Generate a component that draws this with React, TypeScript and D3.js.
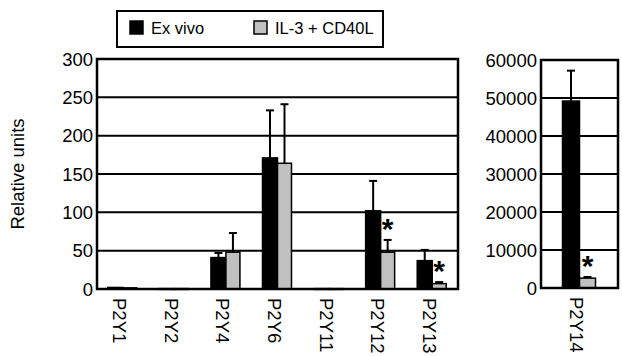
import * as d3 from "d3"

// data
const categories = ["P2Y1", "P2Y2", "P2Y4", "P2Y6", "P2Y11", "P2Y12", "P2Y13"]
const exVivo = [2, 0.5, 41, 171, 0.5, 102, 37]
const exVivoErr = [0, 0, 6, 62, 0, 39, 14]
const il3 = [1.5, 0.5, 48, 164, 0.5, 48, 7]
const il3Err = [0, 0, 25, 77, 0, 16, 2]
const il3Sig = [false, false, false, false, false, true, true]

const bigCategory = ["P2Y14"]
const bigExVivo = [49200]
const bigExVivoErr = [8000]
const bigIl3 = [2600]
const bigIl3Err = [300]
const bigIl3Sig = [true]

const leftTicks = [0, 50, 100, 150, 200, 250, 300]
const rightTicks = [0, 10000, 20000, 30000, 40000, 50000, 60000]

const seriesNames = ["Ex vivo", "IL-3 + CD40L"]
const seriesColors = ["#000000", "#c0c0c0"]

const FONT = "'Liberation Sans', Arial, Helvetica, sans-serif"

type PanelProps = {
  cats: string[]
  a: number[]
  aErr: number[]
  b: number[]
  bErr: number[]
  sig: boolean[]
  ticks: number[]
  x0: number
  x1: number
  top: number
  bottom: number
  half: number
}

function Panel({ cats, a, aErr, b, bErr, sig, ticks, x0, x1, top, bottom, half }: PanelProps) {
  const y = d3.scaleLinear().domain([0, d3.max(ticks) as number]).range([bottom, top])
  const x = d3.scaleBand().domain(cats).range([x0, x1])
  const errBar = (cx: number, v: number, e: number, key: string) => {
    if (e <= 0) return null
    return (
      <g key={key} stroke="#000" strokeWidth={2}>
        <line x1={cx} x2={cx} y1={y(v)} y2={y(v + e)} />
        <line x1={cx - 4} x2={cx + 4} y1={y(v + e)} y2={y(v + e)} />
      </g>
    )
  }
  return (
    <g>
      {ticks.map(t => (
        <g key={t}>
          <line x1={x0} x2={x1} y1={y(t)} y2={y(t)} stroke="#000" strokeWidth={2} />
          <text x={x0 - 4} y={y(t) + 6.5} textAnchor="end" fontSize={18.5} fontFamily={FONT}>
            {t}
          </text>
        </g>
      ))}
      {cats.map((c, i) => {
        const cx = (x(c) as number) + x.bandwidth() / 2
        const ha = y(0) - y(a[i])
        const hb = y(0) - y(b[i])
        return (
          <g key={c}>
            <rect x={cx - half} y={y(a[i])} width={half} height={Math.max(ha, 0.8)}
              fill={seriesColors[0]} stroke="#000" strokeWidth={1.5} />
            <rect x={cx} y={y(b[i])} width={half - 1} height={Math.max(hb, 0.8)}
              fill={seriesColors[1]} stroke="#000" strokeWidth={1.5} />
            {errBar(cx - half / 2, a[i], aErr[i], "ea")}
            {errBar(cx + (half - 1) / 2, b[i], bErr[i], "eb")}
            {sig[i] && (
              <text x={cx + (half - 1) / 2} y={y(b[i] + bErr[i]) - 1} textAnchor="middle"
                fontSize={30} fontWeight="bold" fontFamily={FONT}>
                *
              </text>
            )}
            <text transform={`translate(${cx - 3},${bottom + 9}) rotate(90)`}
              dominantBaseline="central" fontSize={18.5} fontFamily={FONT}>
              {c}
            </text>
          </g>
        )
      })}
      <rect x={x0} y={top} width={x1 - x0} height={bottom - top} fill="none" stroke="#000" strokeWidth={2.5} />
    </g>
  )
}

export default function App() {
  return (
    <svg width={622} height={356} style={{ position: "absolute", left: 0, top: 0, background: "#fff" }}>
      <rect x={0} y={0} width={622} height={356} fill="#fff" />
      {/* legend */}
      <rect x={117} y={11} width={266} height={36} fill="#fff" stroke="#000" strokeWidth={2} />
      {seriesNames.map((s, i) => (
        <g key={s}>
          <rect x={130 + i * 124} y={21} width={13} height={13} fill={seriesColors[i]} stroke="#000" strokeWidth={1.5} />
          <text x={151 + i * 124} y={34} fontSize={16.5} fontFamily={FONT}>{s}</text>
        </g>
      ))}
      <text transform="translate(24,174) rotate(-90)" textAnchor="middle" fontSize={18.5} fontFamily={FONT}>
        Relative units
      </text>
      <Panel cats={categories} a={exVivo} aErr={exVivoErr} b={il3} bErr={il3Err} sig={il3Sig}
        ticks={leftTicks} x0={97} x1={458} top={59} bottom={289} half={15} />
      <Panel cats={bigCategory} a={bigExVivo} aErr={bigExVivoErr} b={bigIl3} bErr={bigIl3Err} sig={bigIl3Sig}
        ticks={rightTicks} x0={541} x1={618} top={60} bottom={288} half={17} />
    </svg>
  )
}
